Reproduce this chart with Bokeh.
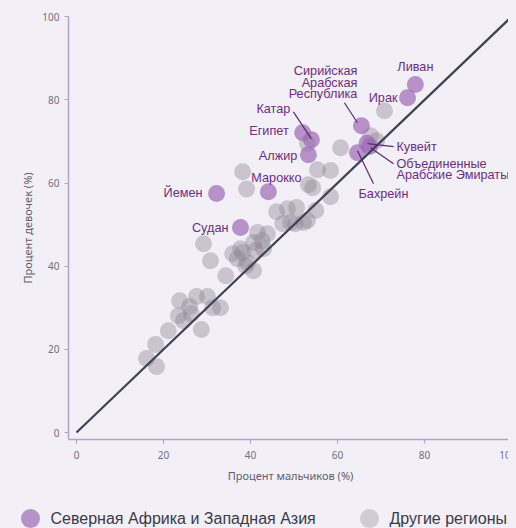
from bokeh.plotting import figure
from bokeh.models import Label, FixedTicker, Range1d
from bokeh.embed import file_html
from bokeh.resources import INLINE
from bokeh.core.properties import value

# ---------------- data ----------------
mena_names = ["Ливан", "Ирак", "Сирийская Арабская Республика", "Катар", "Египет",
              "Алжир", "Марокко", "Йемен", "Судан", "Кувейт",
              "Объединенные Арабские Эмираты", "Бахрейн"]
mena_boys = [77.9, 76.1, 65.5, 54.0, 52.0, 53.3, 44.1, 32.2, 37.7, 66.8, 67.4, 64.6]
mena_girls = [83.7, 80.5, 73.8, 70.4, 72.1, 66.8, 57.9, 57.5, 49.3, 69.6, 68.8, 67.3]

other_boys = [70.8, 60.7, 67.6, 69.0, 53.1, 55.4, 58.4, 53.3, 54.3, 58.4,
              38.2, 39.1, 46.0, 48.5, 50.6, 55.0, 47.4, 49.2, 50.3, 52.2,
              53.1, 41.6, 43.9, 40.7, 42.7, 43.0, 41.1, 37.7, 38.2, 35.9,
              37.0, 39.3, 38.9, 40.7, 30.8, 29.2, 34.3, 23.7, 27.6, 30.1,
              26.0, 31.3, 33.1, 23.4, 26.4, 24.6, 28.7, 21.1, 18.2, 16.1, 18.4]
other_girls = [77.4, 68.5, 71.4, 70.2, 69.5, 63.2, 63.0, 59.6, 58.9, 56.7,
               62.7, 58.6, 53.1, 53.8, 54.1, 53.4, 50.2, 50.5, 50.2, 50.5,
               51.0, 48.1, 47.8, 45.7, 46.1, 44.2, 43.8, 44.2, 43.3, 43.0,
               41.8, 40.9, 40.1, 38.9, 41.3, 45.4, 37.7, 31.7, 32.7, 32.7,
               30.3, 30.0, 30.0, 28.1, 28.6, 26.9, 24.8, 24.5, 21.2, 17.8, 15.9]

parity_x = [0, 100]
parity_y = [0, 100]
ticks = [0, 20, 40, 60, 80, 100]

legend_labels = ["Северная Африка и Западная Азия", "Другие регионы"]

# ---------------- style ----------------
BG = "#f3eff7"
PURPLE = "#9b6bb3"
GREY = "#8a8590"
LABEL_COLOR = "#6a2e82"
LEADER_COLOR = "#5b2a70"
AXIS_COLOR = "#aaa8c4"
TICK_TEXT = "#707080"
TITLE_TEXT = "#5e5e6e"

W, H = 508, 482
BL, BR, BT, BB = 60, 4, 8, 51
X0, X1 = -1.84, 100.23
Y0, Y1 = -1.68, 100.07
FW, FH = W - BL - BR, H - BT - BB
XS = FW / (X1 - X0)
YS = FH / (Y1 - Y0)

# label placement in screen px relative to point (dx right, dy up)
label_style = {
    "Ливан": dict(lines=["Ливан"], dx=0, dy=18, align="center"),
    "Ирак": dict(lines=["Ирак"], dx=-10, dy=0, align="right"),
    "Сирийская Арабская Республика": dict(lines=["Сирийская", "Арабская", "Республика"],
                                          dx=-4, dy=55, align="right",
                                          leader=((-4, 3), (-17, 23))),
    "Катар": dict(lines=["Катар"], dx=-21, dy=31, align="right",
                  leader=((-18, 28), (0, 1))),
    "Египет": dict(lines=["Египет"], dx=-14, dy=2, align="right"),
    "Алжир": dict(lines=["Алжир"], dx=-11, dy=-1, align="right"),
    "Марокко": dict(lines=["Марокко"], dx=-17, dy=14, align="left"),
    "Йемен": dict(lines=["Йемен"], dx=-14, dy=0, align="right"),
    "Судан": dict(lines=["Судан"], dx=-12, dy=0, align="right"),
    "Кувейт": dict(lines=["Кувейт"], dx=29.4, dy=-3.5, align="left",
                   leader=((0.5, -0.5), (26.5, -3.5))),
    "Объединенные Арабские Эмираты": dict(lines=["Объединенные", "Арабские Эмираты"],
                                          dx=26.8, dy=-17.2, align="left",
                                          leader=((0.8, -1.2), (23.8, -17.2))),
    "Бахрейн": dict(lines=["Бахрейн"], dx=1, dy=-41, align="left",
                    leader=((0, 2), (16, -31))),
}
LINE_STEP = 11.8

p = figure(width=W, height=H, x_range=Range1d(X0, X1), y_range=Range1d(Y0, Y1),
           output_backend="svg", toolbar_location=None,
           min_border_left=BL, min_border_right=BR, min_border_top=BT, min_border_bottom=BB)
p.background_fill_color = BG
p.border_fill_color = BG
p.outline_line_color = None
p.grid.visible = False

for ax in (p.xaxis[0], p.yaxis[0]):
    ax.ticker = FixedTicker(ticks=ticks)
    ax.axis_line_color = AXIS_COLOR
    ax.axis_line_width = 1.5
    ax.major_tick_line_color = AXIS_COLOR
    ax.major_tick_line_width = 1.2
    ax.major_tick_in = 0
    ax.major_tick_out = 4
    ax.minor_tick_line_color = None
    ax.major_label_text_font = "Noto Sans"
    ax.major_label_text_font_size = "10px"
    ax.major_label_text_color = TICK_TEXT
    ax.axis_label_text_font = "Noto Sans"
    ax.axis_label_text_font_size = "11px"
    ax.axis_label_text_font_style = "normal"
    ax.axis_label_text_color = TITLE_TEXT

p.xaxis.axis_label = "Процент мальчиков (%)"
p.yaxis.axis_label = "Процент девочек (%)"
p.xaxis.major_label_standoff = 7
p.xaxis.axis_label_standoff = 6
p.yaxis.major_label_standoff = 5
p.yaxis.axis_label_standoff = 4

p.scatter(other_boys, other_girls, size=17, fill_color=GREY, fill_alpha=0.4, line_color=None)
p.scatter(mena_boys, mena_girls, size=17, fill_color=PURPLE, fill_alpha=0.7, line_color=None)
p.line(parity_x, parity_y, line_color="#3d4351", line_width=2.2)

sx0, sy0, sx1, sy1 = [], [], [], []
for name, bx, gy in zip(mena_names, mena_boys, mena_girls):
    st = label_style[name]
    for i, line in enumerate(st["lines"]):
        p.add_layout(Label(x=bx, y=gy, x_offset=st["dx"], y_offset=st["dy"] - i * LINE_STEP,
                           text=line, text_align=st["align"], text_baseline="middle",
                           text_font="Liberation Sans", text_font_size="12.7px",
                           text_color=LABEL_COLOR))
    if "leader" in st:
        (a, b), (c, d) = st["leader"]
        sx0.append(bx + a / XS); sy0.append(gy + b / YS)
        sx1.append(bx + c / XS); sy1.append(gy + d / YS)
p.segment(sx0, sy0, sx1, sy1, line_color=LEADER_COLOR, line_width=1.2)

# ---------------- legend strip (separate root, stacked under the chart) ----------------
LH = 38
leg = figure(width=W, height=LH, x_range=Range1d(0, W), y_range=Range1d(0, LH),
             x_axis_type=None, y_axis_type=None,
             output_backend="svg", toolbar_location=None,
             min_border=0, min_border_left=0, min_border_right=0,
             min_border_top=0, min_border_bottom=0)
leg.grid.visible = False
leg.outline_line_color = None
leg.background_fill_color = BG
leg.border_fill_color = BG

leg_marker_x = [22, 361]
leg_text_x = [42, 381]
leg_y = 10
leg_colors = [PURPLE, GREY]
leg_alphas = [0.7, 0.33]
for mx, tx, lab, col, al in zip(leg_marker_x, leg_text_x, legend_labels, leg_colors, leg_alphas):
    leg.scatter([mx], [leg_y], size=19, fill_color=col, fill_alpha=al, line_color=None)
    leg.text([tx], [leg_y], text=[lab], text_baseline="middle", text_align="left",
             text_font=value("Liberation Sans"), text_font_size="16px", text_color="#3a3a48")

html = file_html([p, leg], INLINE)
extra_css = ("<style>html{background-color:%s;overflow:hidden;}"
             "body{margin:8px !important;background-color:%s;overflow:hidden;line-height:0;}</style>" % (BG, BG))
idx = html.rfind("</head>")
html = html[:idx] + extra_css + html[idx:]
open("out.html", "w").write(html)
